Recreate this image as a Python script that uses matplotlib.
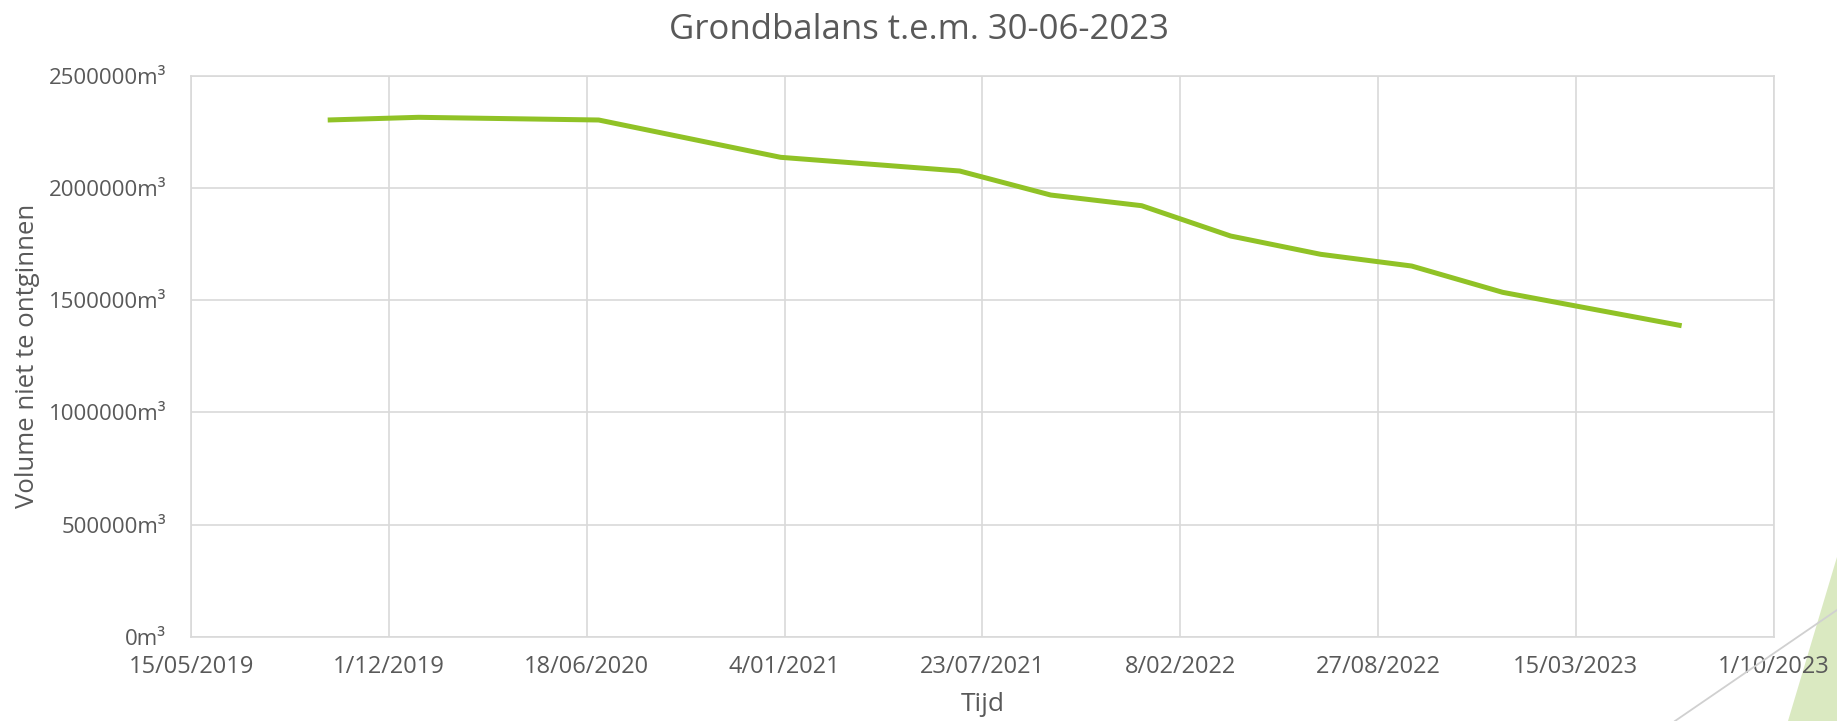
import matplotlib
matplotlib.use("Agg")
import matplotlib.pyplot as plt
from matplotlib.ticker import FuncFormatter
from matplotlib.patches import Polygon
from matplotlib.lines import Line2D
import pandas as pd

# Data
dates = ["2019-09-30", "2019-12-31", "2020-06-30", "2020-12-31", "2021-06-30",
         "2021-09-30", "2021-12-31", "2022-03-31", "2022-06-30", "2022-09-30",
         "2022-12-31", "2023-06-30"]
volumes = [2302600, 2314600, 2302600, 2136300, 2075300, 1968300,
           1920700, 1785600, 1704100, 1651900, 1534700, 1385900]

x_start, x_end = "2019-05-15", "2023-10-01"
x_step_days = 200
y_ticks = [0, 500000, 1000000, 1500000, 2000000, 2500000]

TEXT = "#595959"
GRID = "#d9d9d9"
LINE = "#90c226"

plt.rcParams.update({
    "font.family": ["Open Sans", "DejaVu Sans"],
    "text.color": TEXT,
    "axes.labelcolor": TEXT,
    "xtick.color": TEXT,
    "ytick.color": TEXT,
})

fig = plt.figure(figsize=(18.37, 7.21), dpi=100)
ax = fig.add_axes([0.1041, 0.1169, 0.9655 - 0.1041, 0.895 - 0.1169])

x = pd.to_datetime(dates)
ax.plot(x, volumes, color=LINE, linewidth=3.6, solid_capstyle="butt", zorder=3)

t0, t1 = pd.Timestamp(x_start), pd.Timestamp(x_end)
ax.set_xlim(t0, t1)
ticks = pd.date_range(t0, t1, freq=f"{x_step_days}D")
ax.set_xticks(ticks)
ax.set_xticklabels([f"{d.day}/{d.month:02d}/{d.year}" for d in ticks])

ax.set_ylim(0, 2500000)
ax.set_yticks(y_ticks)
ax.yaxis.set_major_formatter(FuncFormatter(lambda v, p: f"{int(v)}m\u00b3"))

ax.grid(True, color=GRID, linewidth=1.2, zorder=0)
for s in ax.spines.values():
    s.set_color(GRID)
    s.set_linewidth(1.2)
ax.tick_params(length=0)
ax.tick_params(axis="y", pad=18, labelsize=16)
ax.tick_params(axis="x", pad=13, labelsize=17)

ax.set_xlabel("Tijd", fontsize=19)
ax.set_ylabel("Volume niet te ontginnen", fontsize=18.5)
ax.xaxis.set_label_coords(0.5, -0.0986)
ax.yaxis.set_label_coords(-0.0957, 0.5)
fig.text(0.5, 0.958, "Grondbalans t.e.m. 30-06-2023", ha="center", va="center",
         fontsize=25, color=TEXT)

# slide decoration in the lower right corner
W, H = 1837, 721
fig.patches.append(Polygon([(1837 / W, 1 - 557 / H), (1788 / W, 0), (1, 0)],
                           closed=True, transform=fig.transFigure,
                           facecolor="#dae9c1", edgecolor="none", zorder=-1))
fig.lines.append(Line2D([1675 / W, 1], [0, 1 - 610 / H], transform=fig.transFigure,
                        color="#d0d0d0", linewidth=1.3))

fig.savefig("out.png", dpi=100, facecolor="white")
